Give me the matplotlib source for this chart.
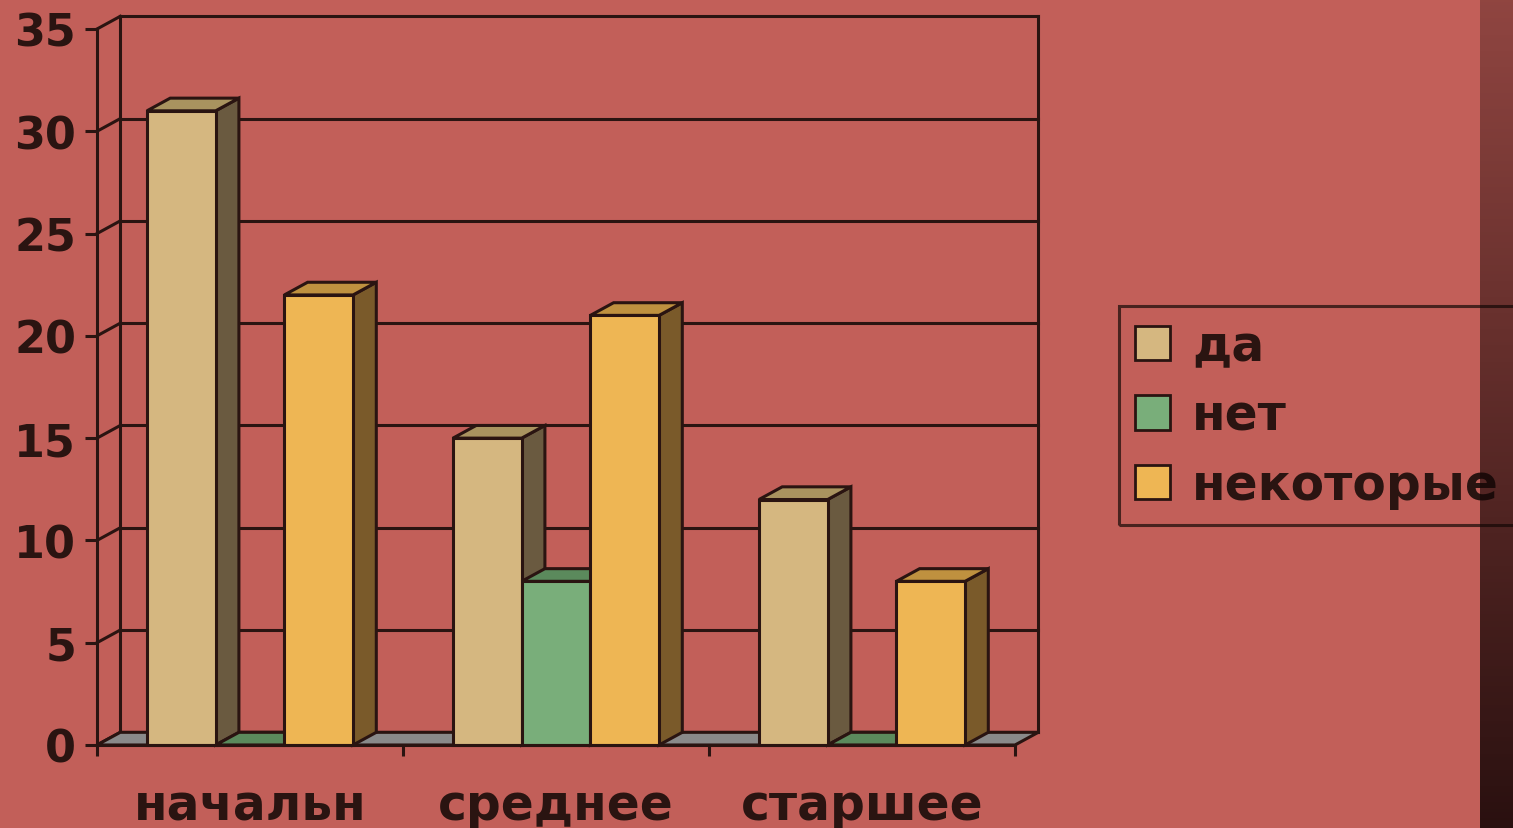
import numpy as np
import matplotlib.pyplot as plt
from matplotlib.patches import Polygon, Patch

categories = ['начальн', 'среднее', 'старшее']
series = ['да', 'нет', 'некоторые']
da = [31, 15, 12]
net = [0, 8, 0]
nekotorye = [22, 21, 8]
yticks = [0, 5, 10, 15, 20, 25, 30, 35]
values = [da, net, nekotorye]

bg = '#C25F59'
ink = '#2A1411'
front_c = ['#D5B780', '#79AE7A', '#EEB654']
side_c = ['#6A5A40', '#4F6E4E', '#7A5A2A']
top_c = ['#A9935F', '#5B8A5C', '#BF913F']
floor_c = '#8A8A8A'

DX, DY = 0.076, 0.62   # depth offset of the 3d look
W = 0.2245             # bar width

plt.rcParams['font.family'] = 'DejaVu Sans'
plt.rcParams['font.weight'] = 'bold'

fig = plt.figure(figsize=(15.13, 8.29), dpi=100, facecolor=bg)
ax = fig.add_axes([97 / 1513, 83 / 829, 918 / 1513, 716 / 829])
ax.set_facecolor('none')
ax.set_xlim(0, len(categories))
ax.set_ylim(0, yticks[-1])
n = len(categories)

lw = 2.2
# back wall: grid lines, diagonals, verticals
for y in yticks:
    ax.plot([DX, n + DX], [y + DY, y + DY], color=ink, lw=lw, clip_on=False, zorder=1)
    ax.plot([0, DX], [y, y + DY], color=ink, lw=lw, clip_on=False, zorder=1)
ax.plot([DX, DX], [DY, yticks[-1] + DY], color=ink, lw=lw, clip_on=False, zorder=1)
ax.plot([n + DX, n + DX], [DY, yticks[-1] + DY], color=ink, lw=lw, clip_on=False, zorder=1)

# floor
ax.add_patch(Polygon([(0, 0), (n, 0), (n + DX, DY), (DX, DY)], closed=True,
                     facecolor=floor_c, edgecolor=ink, lw=lw, clip_on=False, zorder=2))

# bars: side and top faces drawn left to right, fronts on top
for i in range(n):
    for j in range(len(series)):
        x0 = i + 0.5 - 1.5 * W + j * W
        v = values[j][i]
        ax.add_patch(Polygon([(x0 + W, 0), (x0 + W + DX, DY), (x0 + W + DX, v + DY), (x0 + W, v)],
                             closed=True, facecolor=side_c[j], edgecolor=ink, lw=lw,
                             clip_on=False, zorder=3, joinstyle='miter'))
        ax.add_patch(Polygon([(x0, v), (x0 + W, v), (x0 + W + DX, v + DY), (x0 + DX, v + DY)],
                             closed=True, facecolor=top_c[j], edgecolor=ink, lw=lw,
                             clip_on=False, zorder=3, joinstyle='miter'))
for j in range(len(series)):
    xs = np.arange(n) + 0.5 - W + j * W
    ax.bar(xs, values[j], width=W, color=front_c[j], edgecolor=ink, linewidth=lw,
           zorder=4, clip_on=False)

# axes
for s in ['top', 'right']:
    ax.spines[s].set_visible(False)
for s in ['left', 'bottom']:
    ax.spines[s].set_color(ink)
    ax.spines[s].set_linewidth(lw)
    ax.spines[s].set_zorder(5)
ax.set_yticks(yticks)
ax.tick_params(axis='y', length=9, width=lw, color=ink, pad=6, labelsize=32, labelcolor=ink)
ax.set_xticks(np.arange(n) + 0.5)
ax.set_xticklabels(categories)
ax.set_xticks(np.arange(n + 1), minor=True)
ax.tick_params(axis='x', which='major', length=0, pad=26, labelsize=35, labelcolor=ink)
ax.tick_params(axis='x', which='minor', length=8, width=lw, color=ink)

# legend (frame runs off the right edge)
handles = [Patch(facecolor=front_c[j], edgecolor=ink, linewidth=2) for j in range(len(series))]
leg = fig.legend(handles, series, loc='upper left',
                 bbox_to_anchor=(1119 / 1513, 1 - 307 / 829 - 0.01, 420 / 1513, 0.01), mode='expand',
                 borderaxespad=0, fontsize=35, handlelength=0.72, handleheight=0.72,
                 handletextpad=0.45, labelspacing=0.44, borderpad=0.33, fancybox=False,
                 frameon=True, labelcolor=ink)
leg.get_frame().set_edgecolor(ink)
leg.get_frame().set_linewidth(lw)
leg.get_frame().set_facecolor('none')

# dark gradient strip on the right edge
gx = fig.add_axes([1480 / 1513, 0, 33 / 1513, 1], zorder=10)
alpha = np.linspace(0.29, 0.88, 256)
grad = np.zeros((256, 1, 4))
grad[:, 0, 0] = 0.08
grad[:, 0, 1] = 0.02
grad[:, 0, 2] = 0.02
grad[:, 0, 3] = alpha
gx.imshow(grad, aspect='auto', extent=[0, 1, 0, 1], origin='upper')
gx.axis('off')

fig.savefig('out.png', dpi=100, facecolor=bg)
